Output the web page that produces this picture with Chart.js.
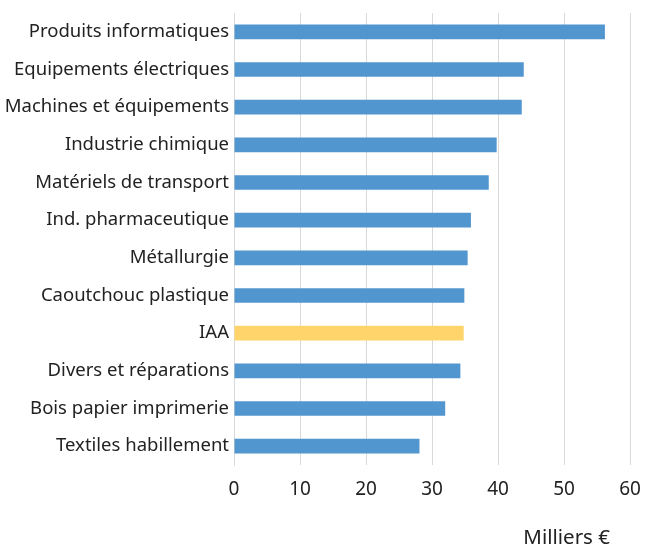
<!DOCTYPE html>
<html>
<head>
<meta charset="utf-8">
<script src="https://cdn.jsdelivr.net/npm/chart.js@4"></script>
<style>
    html, body { margin: 0; padding: 0; background: #fff; }
    #wrap { width: 647px; height: 547px; }
</style>
</head>
<body>
<div id="wrap"><canvas id="myChart" width="647" height="547"></canvas></div>
<script>
// Data
const secteurs = [
    'Produits informatiques', 'Equipements électriques', 'Machines et équipements',
    'Industrie chimique', 'Matériels de transport', 'Ind. pharmaceutique',
    'Métallurgie', 'Caoutchouc plastique', 'IAA', 'Divers et réparations',
    'Bois papier imprimerie', 'Textiles habillement'
];
const valeurs = [56.2, 43.9, 43.6, 39.8, 38.6, 35.9, 35.4, 34.9, 34.8, 34.3, 32.0, 28.1];
const couleurs = secteurs.map(s => s === 'IAA' ? '#ffd56b' : '#5296d0');
const axisTitle = 'Milliers €';

const fontFamily = "'Noto Sans', sans-serif";

// Axis title, right-aligned under the ticks
const titlePlugin = {
    id: 'axisTitle',
    afterDraw(chart) {
        const c = chart.ctx;
        c.save();
        c.font = '20.5px ' + fontFamily;
        c.fillStyle = '#222';
        c.textAlign = 'right';
        c.textBaseline = 'middle';
        c.fillText(axisTitle, 610, 538);
        c.restore();
    }
};

const ctx = document.getElementById('myChart').getContext('2d');

const myChart = new Chart(ctx, {
    type: 'bar',
    data: {
        labels: secteurs,
        datasets: [{
            data: valeurs,
            backgroundColor: couleurs,
            categoryPercentage: 1,
            barPercentage: 0.39
        }]
    },
    options: {
        indexAxis: 'y',
        responsive: false,
        animation: false,
        layout: { padding: { top: 13, right: 17, left: 0, bottom: 0 } },
        plugins: {
            legend: { display: false },
            tooltip: { enabled: false }
        },
        scales: {
            x: {
                min: 0,
                max: 60,
                ticks: {
                    stepSize: 10,
                    color: '#222',
                    font: { family: fontFamily, size: 19 },
                    padding: 13
                },
                grid: { color: '#d9d9d9', drawTicks: false, lineWidth: 1 },
                border: { display: false },
                afterFit(scale) {
                    scale.height = 82;
                    scale.paddingRight = 0;
                    scale.paddingLeft = 0;
                }
            },
            y: {
                ticks: {
                    color: '#222',
                    font: { family: fontFamily, size: 18.5 },
                    padding: 5
                },
                grid: { display: false, drawTicks: false },
                border: { color: '#d9d9d9' },
                afterFit(scale) {
                    scale.width = 234;
                    scale.paddingTop = 0;
                    scale.paddingBottom = 0;
                }
            }
        }
    },
    plugins: [titlePlugin]
});
</script>
</body>
</html>
